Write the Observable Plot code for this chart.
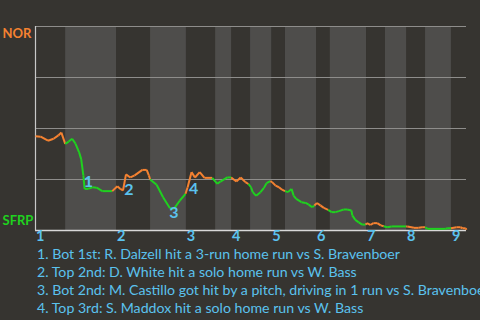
<!DOCTYPE html>
<html>
<head>
<meta charset="utf-8">
<script src="https://cdn.jsdelivr.net/npm/d3@7"></script>
<script src="https://cdn.jsdelivr.net/npm/@observablehq/plot@0.6"></script>
<style>
  html, body { margin: 0; padding: 0; background: #363430; width: 480px; height: 320px; overflow: hidden; }
  #chart svg { display: block; }
  #caption { font-family: Lato, "Open Sans", sans-serif; font-size: 14.15px; color: #5bc2ee; line-height: 18px; padding-left: 37px; white-space: nowrap; }
</style>
</head>
<body>
<div id="chart"></div>
<div id="caption"></div>
<script>
// Game progress (% of game) at the start of each half-inning
const halfStarts = [0, 7.0, 18.8, 26.7, 35.0, 41.8, 45.5, 49.9, 54.8, 58.0, 65.2, 68.4, 76.8, 81.2, 86.1, 90.5, 96.5];
const gameEnd = 100;
const inningLabels = ["1", "2", "3", "4", "5", "6", "7", "8", "9"];

// Win-probability series: progress (%) and NOR win probability
const progress = [0, 1.2, 2.9, 4.2, 5.3, 6.0, 6.9, 7.7, 8.5, 9.3, 10.1, 10.6, 11.1, 11.4, 12.2, 13.2, 14.2, 15.5, 17.8,
  19.0, 19.7, 20.3, 21.0, 22.0, 23.0, 24.8, 25.8, 26.3, 26.6, 28.1, 29.6, 31.2, 32.1, 33.5, 34.8,
  35.3, 36.2, 37.0, 38.1, 39.2, 41.0, 42.2, 42.9, 44.5, 45.4, 46.6, 47.6, 48.7, 49.4, 50.0, 50.4, 51.2, 52.2,
  53.0, 53.6, 54.5, 54.9, 55.7, 56.5, 57.2, 57.9, 58.6, 59.4, 59.9, 60.5, 61.7, 62.7, 63.4, 64.2, 64.7,
  65.3, 66.1, 66.9, 67.9, 68.7, 69.6, 70.4, 71.5, 72.3, 73.3, 73.5, 74.2, 75.0, 75.8, 76.6, 76.9, 77.7, 78.4,
  79.3, 80.1, 80.8, 81.6, 82.6, 86.0, 86.3, 87.8, 88.9, 89.7, 90.4, 91.0, 95.1, 95.5, 96.4, 97.7, 98.6, 99.1, 99.8, 100];
const norWinProb = [0.462, 0.46, 0.44, 0.45, 0.466, 0.48, 0.425, 0.436, 0.45, 0.425, 0.384, 0.35, 0.27, 0.204, 0.204, 0.212, 0.21, 0.193, 0.193,
  0.217, 0.204, 0.196, 0.275, 0.26, 0.27, 0.297, 0.297, 0.27, 0.25, 0.224, 0.163, 0.109, 0.106, 0.147, 0.18,
  0.212, 0.286, 0.26, 0.286, 0.258, 0.258, 0.229, 0.24, 0.26, 0.26, 0.24, 0.26, 0.237, 0.228, 0.212, 0.188, 0.17, 0.188,
  0.209, 0.232, 0.242, 0.237, 0.22, 0.212, 0.2, 0.193, 0.188, 0.204, 0.17, 0.155, 0.139, 0.135, 0.127, 0.114, 0.123,
  0.135, 0.123, 0.111, 0.101, 0.09, 0.09, 0.095, 0.103, 0.103, 0.098, 0.074, 0.052, 0.04, 0.029, 0.029, 0.036, 0.027, 0.036,
  0.036, 0.025, 0.021, 0.016, 0.02, 0.02, 0.02, 0.013, 0.013, 0.016, 0.016, 0.008, 0.008, 0.011, 0.011, 0.016, 0.016, 0.011, 0.011, 0.004];

// Key events: label, position (progress %, win prob)
const eventLabels = ["1", "2", "3", "4"];
const eventProgress = [12.3, 21.65, 32.1, 36.7];
const eventProb = [0.237, 0.201, 0.087, 0.204];
const eventTexts = [
  "1. Bot 1st: R. Dalzell hit a 3-run home run vs S. Bravenboer",
  "2. Top 2nd: D. White hit a solo home run vs W. Bass",
  "3. Bot 2nd: M. Castillo got hit by a pitch, driving in 1 run vs S. Bravenboer",
  "4. Top 3rd: S. Maddox hit a solo home run vs W. Bass"
];
const teams = ["NOR", "SFRP"];
const gridValues = [0.25, 0.5, 0.75, 1];

const ORANGE = "#f58231", GREEN = "#1fd11f", BLUE = "#5bc2ee";

// Build tables
const halves = halfStarts.map((s, i) => ({
  x1: s, x2: i + 1 < halfStarts.length ? halfStarts[i + 1] : gameEnd, bottom: i % 2 === 1
}));
const innings = inningLabels.map((l, i) => ({ label: l, x: halfStarts[i * 2] }));
const halfOf = x => { let h = 0; for (let i = 0; i < halfStarts.length; i++) if (x > halfStarts[i]) h = i; return h; };
const segs = [];
for (let i = 1; i < progress.length; i++) {
  segs.push({ x1: progress[i - 1], y1: norWinProb[i - 1], x2: progress[i], y2: norWinProb[i], bottom: halfOf(progress[i]) % 2 === 1 });
}
const events = eventLabels.map((l, i) => ({ label: l, x: eventProgress[i], y: eventProb[i] }));

const chart = Plot.plot({
  width: 480,
  height: 245,
  marginLeft: 35,
  marginRight: 14,
  marginTop: 26,
  marginBottom: 15,
  style: { background: "transparent", fontFamily: "Lato, 'Open Sans', sans-serif" },
  x: { domain: [0, gameEnd], axis: null },
  y: { domain: [0, 1], axis: null },
  marks: [
    Plot.rect(halves.filter(d => d.bottom), { x1: "x1", x2: "x2", y1: 0, y2: 1, fill: "#4e4d4b" }),
    Plot.ruleY(gridValues, { stroke: "#8e8d8b", strokeWidth: 1 }),
    Plot.ruleY([0], { stroke: "#d8d8d8", strokeWidth: 1.5 }),
    Plot.ruleX([0], { y1: 0, y2: 1, stroke: "#c8c8c8", strokeWidth: 1.2 }),
    Plot.link(segs, { x1: "x1", y1: "y1", x2: "x2", y2: "y2", stroke: d => d.bottom ? GREEN : ORANGE, strokeWidth: 2 }),
    Plot.text(events, { x: "x", y: "y", text: "label", fill: BLUE, fontSize: 16, fontWeight: "bold" }),
    Plot.text(innings, { x: "x", text: "label", frameAnchor: "bottom", dy: 10, dx: 0.5, textAnchor: "start", fill: BLUE, fontSize: 14.5, fontWeight: "bold" }),
    Plot.text([teams[0]], { y: [1], text: d => d, frameAnchor: "left", dx: -33, dy: 7, textAnchor: "start", fill: ORANGE, fontSize: 13, fontWeight: "bold" }),
    Plot.text([teams[1]], { y: [0], text: d => d, frameAnchor: "left", dx: -33, dy: -10, textAnchor: "start", fill: GREEN, fontSize: 13, fontWeight: "bold" })
  ]
});
document.getElementById("chart").appendChild(chart);
const cap = document.getElementById("caption");
eventTexts.forEach(t => { const d = document.createElement("div"); d.textContent = t; cap.appendChild(d); });
</script>
</body>
</html>
